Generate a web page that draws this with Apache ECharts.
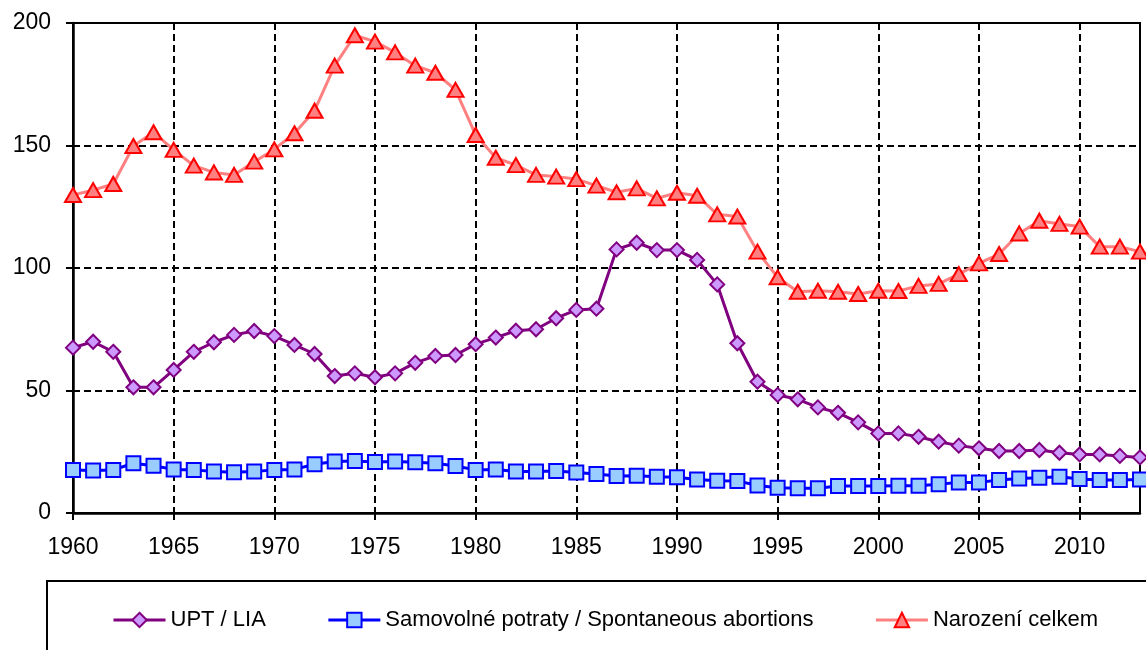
<!DOCTYPE html>
<html>
<head>
<meta charset="utf-8">
<script src="https://cdn.jsdelivr.net/npm/echarts@6/dist/echarts.min.js"></script>
<style>
  html, body { margin: 0; padding: 0; background: #fff; }
  #chart { width: 1146px; height: 650px; }
</style>
</head>
<body>
<div id="chart"></div>
<script>
// years 1960 - 2013
var years = []
for (var y = 1960; y <= 2013; y++) years.push(String(y))

var upt = [67.5, 69.9, 65.8, 51.3, 51.3, 58.4, 65.8, 69.7, 72.7, 74.3,
  72.2, 68.6, 64.9, 55.9, 57.0, 55.4, 57.0, 61.3, 64.1, 64.5,
  68.9, 71.6, 74.4, 75.0, 79.5, 82.9, 83.4, 107.6, 110.3, 107.3,
  107.3, 103.3, 93.3, 69.3, 53.6, 48.2, 46.4, 43.1, 40.9, 37.0,
  32.5, 32.5, 31.1, 29.1, 27.5, 26.4, 25.3, 25.3, 25.7, 24.6,
  23.9, 23.9, 23.3, 22.7]

var spontaneous = [17.6, 17.3, 17.6, 20.3, 19.3, 17.8, 17.6, 16.9, 16.6, 16.9,
  17.6, 17.8, 19.9, 21.0, 21.2, 20.8, 21.0, 20.7, 20.3, 19.2,
  17.6, 17.8, 16.9, 16.9, 17.1, 16.5, 15.9, 15.1, 15.2, 14.8,
  14.6, 13.7, 13.2, 13.1, 11.2, 10.3, 10.1, 10.1, 11.0, 11.0,
  11.0, 11.1, 11.1, 11.7, 12.5, 12.5, 13.5, 14.1, 14.4, 14.8,
  13.9, 13.5, 13.5, 13.7]

var births = [129.8, 131.8, 134.3, 149.8, 155.4, 148.2, 141.8, 139.0, 138.0, 143.4,
  148.4, 155.0, 164.2, 182.6, 195.0, 192.4, 188.0, 182.6, 179.7, 172.7,
  154.3, 145.0, 142.0, 138.0, 137.3, 136.3, 133.6, 130.9, 132.5, 128.4,
  130.7, 129.5, 121.9, 121.0, 106.7, 96.2, 90.3, 90.7, 90.3, 89.4,
  90.7, 90.6, 92.7, 93.5, 97.5, 101.9, 105.7, 114.1, 119.3, 118.0,
  116.9, 108.7, 108.7, 106.7]

var font = "'Liberation Sans', Arial, sans-serif"
var every5 = function (index) { return index % 5 === 0 }

var chart = echarts.init(document.getElementById('chart'))
chart.setOption({
  animation: false,
  backgroundColor: '#fff',
  grid: {
    left: 73, right: 6, top: 23, bottom: 137,
    show: true, borderColor: '#000', borderWidth: 2, backgroundColor: 'transparent'
  },
  graphic: [{
    type: 'rect',
    shape: { x: 47, y: 581, width: 1200, height: 120 },
    style: { fill: 'transparent', stroke: '#000', lineWidth: 2 },
    z: 0
  }],
  legend: {
    left: 107, top: 604, width: 1039,
    itemGap: 61, itemWidth: 52, itemHeight: 18,
    lineStyle: { width: 3 },
    textStyle: { fontFamily: font, fontSize: 22, color: '#000' },
    data: ['UPT / LIA', 'Samovolné potraty / Spontaneous abortions', 'Narození celkem']
  },
  xAxis: {
    type: 'category',
    data: years,
    boundaryGap: false,
    axisLine: { lineStyle: { color: '#000', width: 2.5 } },
    axisTick: { interval: every5, length: 7, lineStyle: { color: '#000', width: 2 } },
    axisLabel: { interval: every5, margin: 23, fontFamily: font, fontSize: 23, color: '#000' },
    splitLine: { show: true, interval: every5, lineStyle: { color: '#000', width: 2, type: [7, 4] } }
  },
  yAxis: {
    type: 'value',
    min: 0, max: 200, interval: 50,
    axisLine: { show: true, lineStyle: { color: '#000', width: 2.5 } },
    axisTick: { show: true, length: 7, lineStyle: { color: '#000', width: 2 } },
    axisLabel: { margin: 22, fontFamily: font, fontSize: 23, color: '#000' },
    splitLine: { show: true, lineStyle: { color: '#000', width: 2, type: [7, 4] } }
  },
  series: [{
    name: 'UPT / LIA',
    type: 'line',
    data: upt,
    showAllSymbol: true,
    symbol: 'diamond',
    symbolSize: 14,
    lineStyle: { color: '#800080', width: 3 },
    itemStyle: { color: '#CC99FF', borderColor: '#800080', borderWidth: 2 }
  }, {
    name: 'Samovolné potraty / Spontaneous abortions',
    type: 'line',
    data: spontaneous,
    showAllSymbol: true,
    symbol: 'rect',
    symbolSize: 14,
    lineStyle: { color: '#0000FF', width: 3 },
    itemStyle: { color: '#99CCFF', borderColor: '#0000FF', borderWidth: 2 }
  }, {
    name: 'Narození celkem',
    type: 'line',
    data: births,
    showAllSymbol: true,
    symbol: 'triangle',
    symbolSize: [16, 14],
    lineStyle: { color: '#FF8080', width: 3 },
    itemStyle: { color: '#FF8080', borderColor: '#FF0000', borderWidth: 2 }
  }]
})
</script>
</body>
</html>
